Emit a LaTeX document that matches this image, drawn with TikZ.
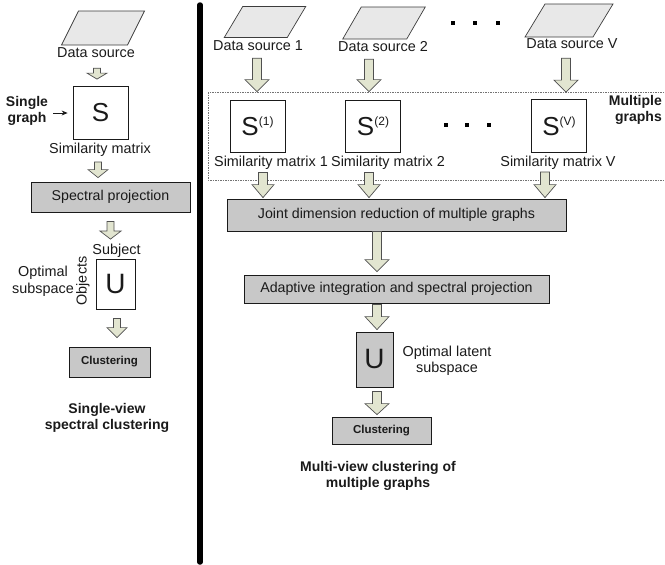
\documentclass[tikz,border=0pt]{standalone}
\usepackage{fontspec}
\setmainfont{Liberation Sans}
\usetikzlibrary{calc,arrows.meta}

\definecolor{arrowfill}{HTML}{E2E5D0}
\definecolor{arrowline}{HTML}{505050}
\definecolor{boxgray}{HTML}{C8C8C8}
\definecolor{srcgray}{HTML}{E8E8E8}
\definecolor{ink}{HTML}{1A1A1A}

% hollow block arrow pointing down: #1 start, #2 tip, #3 shaft half width,
% #4 head half width, #5 head length
\newcommand\fatdown[5]{%
  \draw[blockarrow] let \p1=(#1), \p2=(#2) in
    (\x1-#3,\y1) -- (\x1-#3,\y2+#5) -- (\x1-#4,\y2+#5) -- (\x1,\y2)
    -- (\x1+#4,\y2+#5) -- (\x1+#3,\y2+#5) -- (\x1+#3,\y1) -- cycle;}

% slanted data source sheet: #1 name, #2 cx, #3 cy, #4 half width, #5 half height, #6 shear
\newcommand\datasrc[6]{%
  \draw[srcshape] (#2+#6-#4,#3-#5) -- (#2+#6+#4,#3-#5) -- (#2-#6+#4,#3+#5)
    -- (#2-#6-#4,#3+#5) -- cycle;
  \coordinate (#1) at (#2,#3);}

\tikzset{
  lbl/.style={font=\fontsize{14.4}{16.5}\selectfont, text=ink, inner sep=0pt, align=center},
  boldlbl/.style={font=\fontsize{14}{16.5}\selectfont\bfseries, text=ink, inner sep=0pt, align=center},
  matbox/.style={draw=ink, line width=0.8pt, fill=white, inner sep=0pt, text=ink},
  procbox/.style={draw=ink, line width=0.8pt, fill=boxgray, inner sep=0pt, text=ink,
    font=\fontsize{14.2}{16.5}\selectfont},
  clusterbox/.style={procbox, font=\fontsize{11.5}{13}\selectfont\bfseries},
  blockarrow/.style={draw=arrowline, fill=arrowfill, line width=0.7pt, line join=miter},
  srcshape/.style={draw=ink!85, fill=srcgray, line width=0.7pt},
  groupframe/.style={draw=black!55, line width=0.5pt, dash pattern=on 1.5pt off 1pt},
  dotmark/.style={rectangle, fill=black, minimum size=4pt, inner sep=0pt},
  pointer/.style={draw=ink, line width=0.8pt, -{Stealth[length=6pt,width=5pt]}},
}

\newcommand\bigS{\fontsize{26}{26}\selectfont S}
\newcommand\supidx[1]{\raisebox{10pt}{\fontsize{12}{12}\selectfont (#1)}}

\begin{document}
\begin{tikzpicture}[x=1pt,y=-1pt]
\useasboundingbox (0,0) rectangle (665,565);

% ---------------- single-view pipeline ----------------
\datasrc{src0}{103}{28}{33}{17}{8.5}
\node[lbl] (lds) at (96,53) {Data source};

\node[matbox, minimum width=55pt, minimum height=53pt] (s0) at (100.5,113) {\bigS};
\node[boldlbl] (sg) at (27,111) {Single\\graph};
\draw[pointer] ([xshift=5pt]sg.east |- s0.west) -- ([xshift=-5pt]s0.west);
\node[lbl] (lsim) at (100,150) {Similarity matrix};

\node[procbox, minimum width=159pt, minimum height=30pt] (spec) at (110.5,197) {Spectral projection};

\node[lbl] (subj) at (116.5,251) {Subject};
\node[matbox, minimum width=39pt, minimum height=50pt] (u0) at (115.5,284)
  {\fontsize{28}{28}\selectfont U};
\node[lbl, rotate=90] (obj) at (83,281) {Objects};
\node[lbl] (optsub) at (43,281.5) {Optimal\\subspace};

\node[clusterbox, minimum width=81pt, minimum height=30pt] (cl0) at (109.5,362) {Clustering};
\node[boldlbl] (title0) at (107,418) {Single-view\\spectral clustering};

\fatdown{[xshift=1pt,yshift=-10pt]lds.south}{[xshift=1pt,yshift=7pt]s0.north}{3.5pt}{10pt}{6pt}
\fatdown{[xshift=-2pt,yshift=-5pt]lsim.south}{[yshift=4pt]spec.north}{3.5pt}{10pt}{8pt}
\fatdown{[yshift=-9pt]spec.south}{[yshift=5pt]subj.north}{3.5pt}{10.5pt}{8pt}
\fatdown{[xshift=1.5pt,yshift=-9pt]u0.south}{[yshift=9pt]cl0.north}{3.5pt}{10pt}{10pt}

% ---------------- divider ----------------
\coordinate (divtop) at (200,5);
\coordinate (divbot) at (200,562);
\draw[line width=5.5pt, line cap=round] (divtop) -- (divbot);

% ---------------- multi-view pipeline ----------------
\datasrc{src1}{265}{22}{31.5}{15.5}{9.25}
\datasrc{src2}{384}{23}{32}{16}{9.25}
\datasrc{srcV}{569}{20.5}{34}{16.5}{10}
\node[lbl] (rds1) at (258,46) {Data source 1};
\node[lbl] (rds2) at (383,47) {Data source 2};
\node[lbl] (rdsV) at (572,44) {Data source V};

\node[dotmark] (td1) at (453,23) {};
\node[dotmark] (td2) at (475,23) {};
\node[dotmark] (td3) at (498,23) {};

% frame around the multiple graphs
\draw[groupframe] (208,92) rectangle (668,180);
\node[boldlbl, anchor=east, align=right] (mg) at (662,110) {Multiple\\graphs};

\node[matbox, minimum width=55pt, minimum height=52pt] (s1) at (257.5,126) {\bigS\supidx{1}};
\node[matbox, minimum width=55pt, minimum height=52pt] (s2) at (373,126) {\bigS\supidx{2}};
\node[matbox, minimum width=55pt, minimum height=53pt] (sV) at (559,126) {\bigS\supidx{V}};
\node[dotmark] (md1) at (446,125) {};
\node[dotmark] (md2) at (467,125) {};
\node[dotmark] (md3) at (489,125) {};

\node[lbl] (sim1) at (271,163) {Similarity matrix 1};
\node[lbl] (sim2) at (388,163) {Similarity matrix 2};
\node[lbl] (simV) at (558,163) {Similarity matrix V};

\node[procbox, minimum width=339pt, minimum height=32pt] (joint) at (396.5,215)
  {Joint dimension reduction of multiple graphs};
\node[procbox, minimum width=305pt, minimum height=28pt] (adapt) at (396.5,289)
  {Adaptive integration and spectral projection};
\node[procbox, minimum width=37pt, minimum height=55pt] (u1) at (374.5,359.5)
  {\fontsize{28}{28}\selectfont U};
\node[lbl] (optlat) at (447,361) {Optimal latent\\subspace};
\node[clusterbox, minimum width=99pt, minimum height=27pt] (cl1) at (381.5,430.5) {Clustering};
\node[boldlbl] (title1) at (378,476) {Multi-view clustering of\\multiple graphs};

\fatdown{[xshift=-1pt,yshift=-7pt]rds1.south}{[yshift=8pt]s1.north}{4.5pt}{12pt}{12pt}
\fatdown{[xshift=-14pt,yshift=-7pt]rds2.south}{[yshift=8pt]s2.north}{4.5pt}{12pt}{12pt}
\fatdown{[xshift=-6pt,yshift=-9pt]rdsV.south}{[yshift=7pt]sV.north}{4.5pt}{12pt}{12pt}

\fatdown{[xshift=5.5pt,yshift=-20pt]s1.south}{[yshift=1pt]joint.north}{4.5pt}{11pt}{13pt}
\fatdown{[xshift=-4pt,yshift=-20pt]s2.south}{[yshift=1pt]joint.north}{4.5pt}{11pt}{13pt}
\fatdown{[xshift=-14pt,yshift=-19pt]sV.south}{[yshift=1pt]joint.north}{4.5pt}{11pt}{13pt}

\fatdown{[xshift=-19.5pt]joint.south}{[yshift=3pt]adapt.north}{4.5pt}{12pt}{12pt}
\fatdown{[xshift=-19.5pt,yshift=-1pt]adapt.south}{[yshift=2pt]u1.north}{4.5pt}{12pt}{13pt}
\fatdown{[xshift=2.5pt,yshift=-4pt]u1.south}{[yshift=2pt]cl1.north}{4.5pt}{12pt}{11pt}

\end{tikzpicture}
\end{document}
